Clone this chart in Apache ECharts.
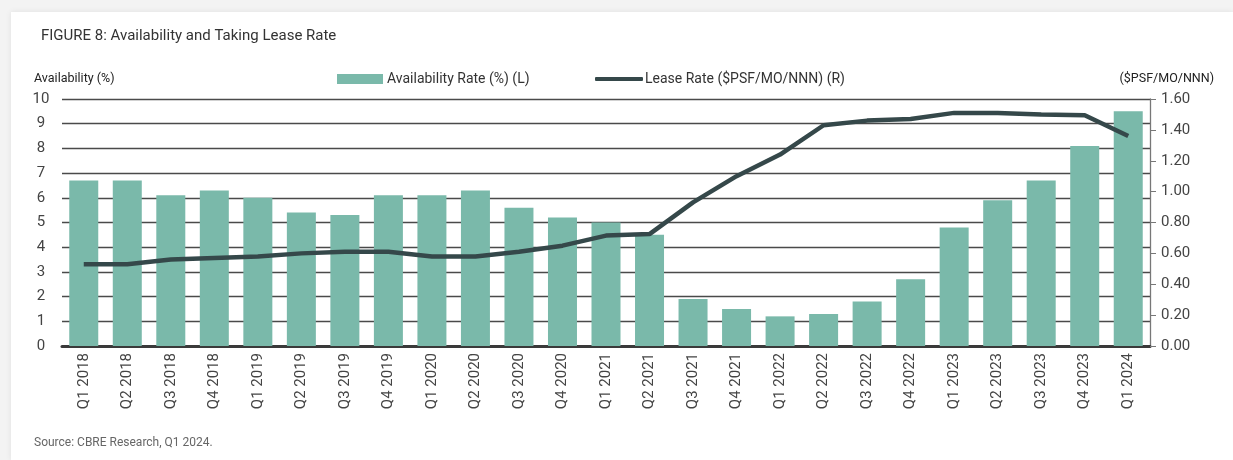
<!DOCTYPE html>
<html>
<head>
<meta charset="utf-8">
<title>Availability and Taking Lease Rate</title>
<script src="https://cdn.jsdelivr.net/npm/echarts@6/dist/echarts.min.js"></script>
<style>
  body { margin: 0; background: #f3f3f3; }
  #card {
    position: absolute; left: 11px; top: 12px; width: 1222px; height: 448px;
    background: #fff; box-shadow: 0 0 6px rgba(0, 0, 0, 0.08);
  }
  #main { position: absolute; left: 0; top: 0; width: 1233px; height: 460px; }
</style>
</head>
<body>
<div id="card"></div>
<div id="main"></div>
<script>
// 季度
var quarters = [
  "Q1 2018", "Q2 2018", "Q3 2018", "Q4 2018",
  "Q1 2019", "Q2 2019", "Q3 2019", "Q4 2019",
  "Q1 2020", "Q2 2020", "Q3 2020", "Q4 2020",
  "Q1 2021", "Q2 2021", "Q3 2021", "Q4 2021",
  "Q1 2022", "Q2 2022", "Q3 2022", "Q4 2022",
  "Q1 2023", "Q2 2023", "Q3 2023", "Q4 2023",
  "Q1 2024"
]
// 空置率 (%) - 左轴
var availability = [
  6.7, 6.7, 6.1, 6.3,
  6.0, 5.4, 5.3, 6.1,
  6.1, 6.3, 5.6, 5.2,
  5.0, 4.5, 1.9, 1.5,
  1.2, 1.3, 1.8, 2.7,
  4.8, 5.9, 6.7, 8.1,
  9.5
]
// 租金 ($PSF/MO/NNN) - 右轴
var leaseRate = [
  0.53, 0.53, 0.56, 0.57,
  0.58, 0.60, 0.61, 0.61,
  0.58, 0.58, 0.61, 0.65,
  0.715, 0.725, 0.93, 1.10,
  1.24, 1.43, 1.46, 1.47,
  1.51, 1.51, 1.50, 1.495,
  1.36
]
var leftTicks = { min: 0, max: 10, interval: 1 }
var rightTicks = { min: 0, max: 1.6, interval: 0.2 }

var barName = "Availability Rate (%) (L)"
var lineName = "Lease Rate ($PSF/MO/NNN) (R)"
var font = "Roboto, 'Open Sans', sans-serif"

var chartDom = document.getElementById("main")
var myChart = echarts.init(chartDom)
var option = {
  textStyle: { fontFamily: font },
  title: [
    {
      text: "FIGURE 8: Availability and Taking Lease Rate",
      left: 36,
      top: 24,
      textStyle: { fontSize: 15, fontWeight: "normal", color: "#333", fontFamily: font }
    },
    {
      text: "Availability (%)",
      left: 29,
      top: 67,
      textStyle: { fontSize: 12.5, fontWeight: "normal", color: "#222", fontFamily: font }
    },
    {
      text: "($PSF/MO/NNN)",
      right: 14,
      top: 67,
      textStyle: { fontSize: 12.5, fontWeight: "normal", color: "#222", fontFamily: font }
    },
    {
      text: "Source: CBRE Research, Q1 2024.",
      left: 29,
      top: 432,
      textStyle: { fontSize: 12, fontWeight: "normal", color: "#666", fontFamily: font }
    }
  ],
  legend: [
    {
      left: 332,
      top: 67,
      itemWidth: 46,
      itemHeight: 10,
      itemGap: 5,
      icon: "rect",
      data: [barName],
      textStyle: { fontSize: 14, color: "#333", fontFamily: font, padding: [0, 0, 0, -1] }
    },
    {
      left: 590,
      top: 67,
      itemWidth: 48,
      itemHeight: 4,
      icon: "roundRect",
      data: [lineName],
      textStyle: { fontSize: 14, color: "#333", fontFamily: font, padding: [0, 0, 0, -3] }
    }
  ],
  grid: {
    left: 62,
    right: 83,
    top: 99,
    bottom: 114
  },
  xAxis: {
    type: "category",
    data: quarters,
    axisLine: { show: true, lineStyle: { color: "#3a3a3a", width: 3 } },
    axisTick: { show: false },
    axisLabel: {
      rotate: 90,
      margin: 7,
      fontSize: 15,
      color: "#444",
      interval: 0
    }
  },
  yAxis: [
    {
      type: "value",
      min: leftTicks.min,
      max: leftTicks.max,
      interval: leftTicks.interval,
      axisLine: { show: false },
      axisTick: { show: false },
      axisLabel: { fontSize: 15, color: "#444", align: "center", margin: 21 },
      splitLine: { lineStyle: { color: "#4a4a4a", width: 1.4 } }
    },
    {
      type: "value",
      position: "right",
      min: rightTicks.min,
      max: rightTicks.max,
      interval: rightTicks.interval,
      axisLine: { show: true, lineStyle: { color: "#777", width: 1.3 } },
      axisTick: { show: true, length: 6, lineStyle: { color: "#777" } },
      axisLabel: {
        fontSize: 15,
        color: "#444",
        margin: 11,
        formatter: function (v) { return v.toFixed(2) }
      },
      splitLine: { show: false }
    }
  ],
  series: [
    {
      name: barName,
      type: "bar",
      yAxisIndex: 0,
      barWidth: 29,
      itemStyle: { color: "#7ab9aa" },
      data: availability
    },
    {
      name: lineName,
      type: "line",
      yAxisIndex: 1,
      symbol: "none",
      lineStyle: { color: "#35484a", width: 4.5 },
      itemStyle: { color: "#35484a" },
      data: leaseRate
    }
  ]
}
option && myChart.setOption(option)
</script>
</body>
</html>
